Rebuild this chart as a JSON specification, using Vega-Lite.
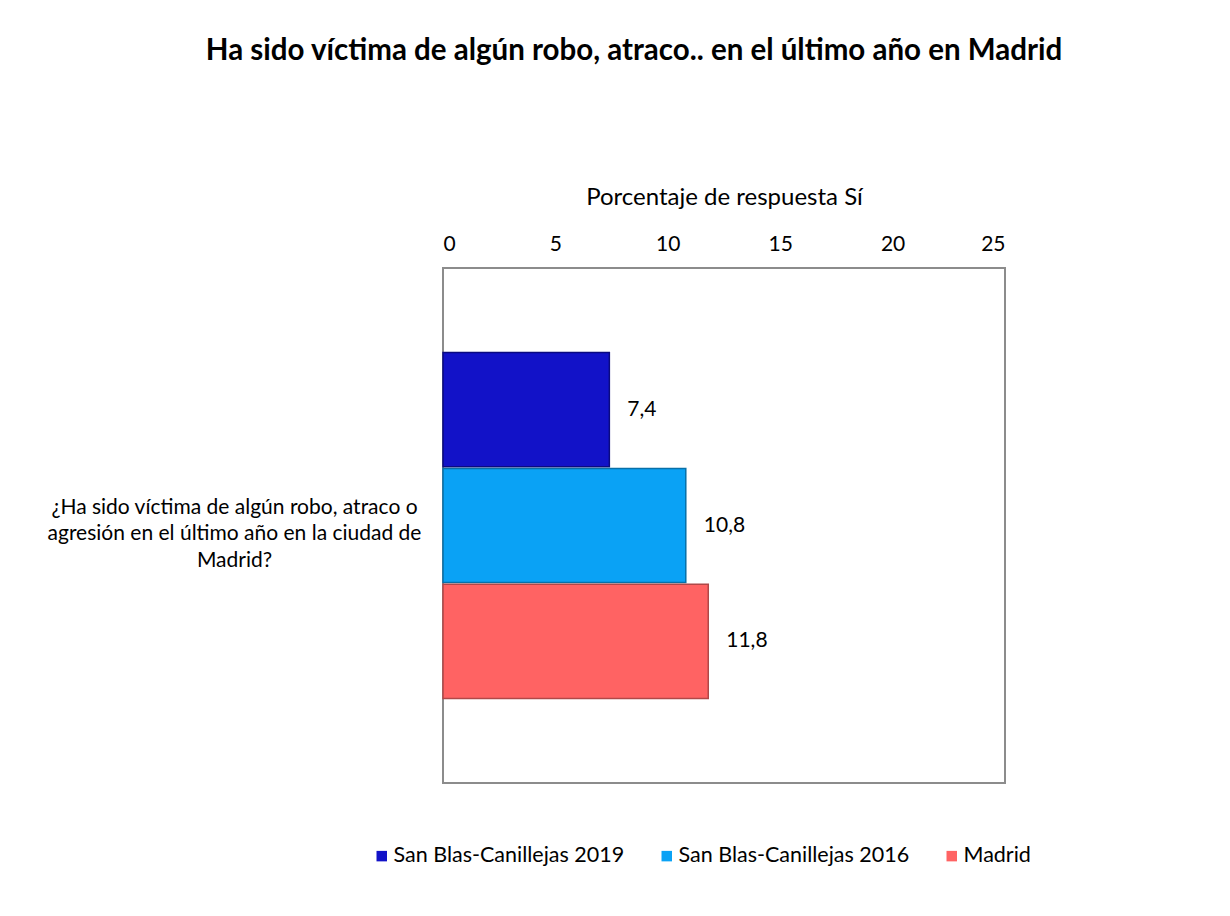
{
  "$schema": "https://vega.github.io/schema/vega-lite/v6.json",
  "autosize": {"type": "none"},
  "width": 562,
  "height": 515,
  "padding": {"left": 443, "top": 268, "right": 225, "bottom": 133},
  "background": "white",
  "config": {
    "font": "Lato",
    "locale": {"number": {"decimal": ",", "thousands": ".", "grouping": [3], "currency": ["", " €"]}},
    "view": {"stroke": "#8c8c8c", "strokeWidth": 2}
  },
  "title": {
    "text": "Ha sido víctima de algún robo, atraco.. en el último año en Madrid",
    "font": "Lato",
    "fontSize": 29.5,
    "fontWeight": "bold",
    "color": "#000000",
    "anchor": "middle",
    "dx": -90,
    "offset": 119
  },
  "data": {
    "values": [
      {"pregunta": "¿Ha sido víctima de algún robo, atraco o|agresión en el último año en la ciudad de|Madrid?", "serie": "San Blas-Canillejas 2019", "valor": 7.4},
      {"pregunta": "¿Ha sido víctima de algún robo, atraco o|agresión en el último año en la ciudad de|Madrid?", "serie": "San Blas-Canillejas 2016", "valor": 10.8},
      {"pregunta": "¿Ha sido víctima de algún robo, atraco o|agresión en el último año en la ciudad de|Madrid?", "serie": "Madrid", "valor": 11.8}
    ]
  },
  "encoding": {
    "y": {
      "field": "pregunta",
      "type": "nominal",
      "scale": {"paddingOuter": 0.244, "paddingInner": 0},
      "axis": {
        "title": null,
        "ticks": false,
        "domain": false,
        "labelExpr": "split(datum.label, '|')",
        "labelAlign": "center",
        "labelPadding": 209,
        "labelFontSize": 21,
        "labelLineHeight": 26.5,
        "labelColor": "#000000",
        "labelLimit": 600,
        "labelBaseline": "middle",
        "labelOffset": -18
      }
    },
    "yOffset": {
      "field": "serie",
      "type": "nominal",
      "sort": ["San Blas-Canillejas 2019", "San Blas-Canillejas 2016", "Madrid"],
      "scale": {"paddingInner": 0.015, "paddingOuter": 0}
    },
    "x": {
      "field": "valor",
      "type": "quantitative",
      "scale": {"domain": [0, 25], "nice": false},
      "axis": {
        "orient": "top",
        "values": [0, 5, 10, 15, 20, 25],
        "grid": false,
        "ticks": false,
        "domain": false,
        "labelFontSize": 21,
        "labelColor": "#000000",
        "labelPadding": 14,
        "title": "Porcentaje de respuesta Sí",
        "titleFontSize": 24,
        "titleFontWeight": "normal",
        "titleColor": "#000000",
        "titlePadding": 24
      }
    }
  },
  "layer": [
    {
      "mark": {"type": "bar", "strokeWidth": 1.5},
      "encoding": {
        "color": {
          "field": "serie",
          "type": "nominal",
          "sort": ["San Blas-Canillejas 2019", "San Blas-Canillejas 2016", "Madrid"],
          "scale": {
            "domain": ["San Blas-Canillejas 2019", "San Blas-Canillejas 2016", "Madrid"],
            "range": ["#1212c8", "#0aa2f5", "#ff6363"]
          },
          "legend": {
            "title": null,
            "orient": "none",
            "direction": "horizontal",
            "legendX": -72,
            "legendY": 577,
            "symbolType": "square",
            "symbolSize": 110,
            "symbolStrokeWidth": 0,
            "labelFontSize": 21.5,
            "labelColor": "#000000",
            "labelOffset": 1,
            "columnPadding": 31,
            "labelLimit": 500
          }
        },
        "stroke": {
          "field": "serie",
          "type": "nominal",
          "scale": {
            "domain": ["San Blas-Canillejas 2019", "San Blas-Canillejas 2016", "Madrid"],
            "range": ["#0a0a80", "#0870a8", "#b04848"]
          },
          "legend": null
        }
      }
    },
    {
      "mark": {"type": "text", "align": "left", "baseline": "middle", "dx": 18, "fontSize": 21, "color": "#000000"},
      "encoding": {
        "text": {"field": "valor", "type": "quantitative", "format": ".1f"}
      }
    }
  ]
}
